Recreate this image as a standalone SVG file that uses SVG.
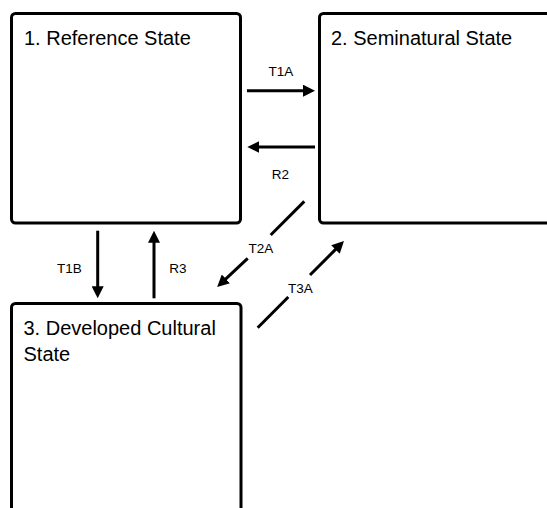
<svg xmlns="http://www.w3.org/2000/svg" width="547" height="508" viewBox="0 0 547 508">
<style>
.box{fill:#fff;stroke:#000;stroke-width:3}
.title{font-family:"Liberation Sans",Arial,sans-serif;font-size:20px;fill:#000}
.lbl{font-family:"Liberation Sans",Arial,sans-serif;font-size:13.5px;fill:#000;text-anchor:middle}
.conn{fill:none;stroke:#000;stroke-width:3;marker-end:url(#ah)}
.seg{fill:none;stroke:#000;stroke-width:3}
</style>
<defs>
<marker id="ah" markerUnits="userSpaceOnUse" markerWidth="12" markerHeight="12" refX="3" refY="6" orient="auto">
<path d="M0,0 L12,6 L0,12 Z" fill="#000"/>
</marker>
</defs>
<rect width="547" height="508" fill="#fff"/>
<g id="node1">
<rect class="box" x="11.5" y="13.5" width="229" height="209.5" rx="4"/>
<text class="title" x="24" y="45">1. Reference State</text>
</g>
<g id="node2">
<rect class="box" x="319.5" y="13.5" width="300" height="209.5" rx="4"/>
<text class="title" x="331" y="45">2. Seminatural State</text>
</g>
<g id="node3">
<rect class="box" x="11.5" y="303.5" width="229.5" height="300" rx="4"/>
<text class="title" x="23.5" y="335">3. Developed Cultural</text>
<text class="title" x="23.5" y="361">State</text>
</g>
<g id="connectors">
<path class="conn" d="M247,90.7 L306,90.7"/>
<text class="lbl" x="280.8" y="76">T1A</text>
<path class="conn" d="M315,147 L256.3,147"/>
<text class="lbl" x="280.5" y="179">R2</text>
<path class="conn" d="M97.7,230.7 L97.7,289.3"/>
<text class="lbl" x="69.5" y="273">T1B</text>
<path class="conn" d="M154,298.3 L154,239.7"/>
<text class="lbl" x="177.8" y="273">R3</text>
<path class="conn" d="M304.3,201.4 L270.7,235 M247.7,258.3 L223.7,280.9"/>
<text class="lbl" x="260.8" y="253">T2A</text>
<path class="conn" d="M257.7,327.7 L288.3,297 M310,275 L337.6,247.4"/>
<text class="lbl" x="300.5" y="293">T3A</text>
</g>
</svg>
